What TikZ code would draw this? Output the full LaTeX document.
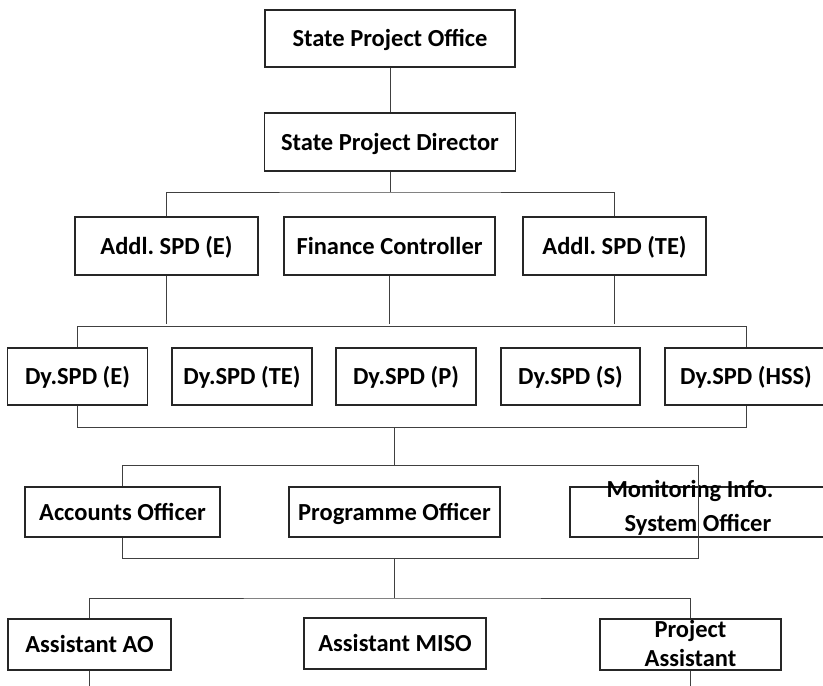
\documentclass[tikz,border=0pt]{standalone}
\usepackage{fontspec}
\setmainfont{Carlito}
\frenchspacing
\begin{document}
\begin{tikzpicture}[x=1pt,y=-1pt,
  box/.style={draw=black!85, line width=1.1pt, fill=white, inner sep=0pt,
    font=\bfseries\fontsize{24.5}{29}\selectfont, text height=16pt, text depth=0pt},
  lbl/.style={inner sep=0pt, anchor=base, font=\bfseries\fontsize{24.5}{29}\selectfont},
  conn/.style={draw=black!75, line width=0.9pt}]
\clip (0,0) rectangle (823,686);
\fill[white] (0,0) rectangle (823,686);
% level 1-2
\node[box, minimum width=250pt, minimum height=57pt] (spo) at (390,38.5) {State Project Office};
\node[box, minimum width=251pt, minimum height=58pt] (spd) at (390,142) {State Project Director};
% level 3
\node[box, minimum width=183pt, minimum height=58pt] (ae)  at (166.5,246) {Addl. SPD (E)};
\node[box, minimum width=211pt, minimum height=58pt] (fc)  at (389.5,246) {Finance Controller};
\node[box, minimum width=183pt, minimum height=58pt] (ate) at (614.5,246) {Addl. SPD (TE)};
% level 4
\node[box, minimum width=140pt, minimum height=57pt] (d1) at (77.5,376.5) {Dy.SPD (E)};
\node[box, minimum width=140pt, minimum height=57pt] (d2) at (242,376.5) {Dy.SPD (TE)};
\node[box, minimum width=140pt, minimum height=57pt] (d3) at (406,376.5) {Dy.SPD (P)};
\node[box, minimum width=139pt, minimum height=57pt] (d4) at (570.5,376.5) {Dy.SPD (S)};
\node[box, minimum width=162pt, minimum height=57pt] (d5) at (746,376.5) {Dy.SPD (HSS)};
% level 5
\node[box, minimum width=195pt, minimum height=50pt] (ao) at (122.5,512) {Accounts Officer};
\node[box, minimum width=211pt, minimum height=50pt] (po) at (394.5,512) {Programme Officer};
\node[box, minimum width=262pt, minimum height=50pt, text height=0pt] (mis) at (701,512) {};
\node[lbl] (mist1) at (690,497) {Monitoring Info.};
\node[lbl] (mist2) at (698,531.5) {System Officer};
% level 6
\node[box, minimum width=163pt, minimum height=51pt] (aao) at (89.5,644.5) {Assistant AO};
\node[box, minimum width=182pt, minimum height=51pt] (amiso) at (395,643.5) {Assistant MISO};
\node[box, minimum width=181pt, minimum height=51pt, text height=0pt] (pa) at (690.5,644.5) {};
\node[lbl] (pat1) at (690.5,637) {Project};
\node[lbl] (pat2) at (690.5,666.5) {Assistant};
% connectors
\coordinate (b1) at (390,192);
\coordinate (b2) at (400,326.5);
\coordinate (b3) at (394,427);
\coordinate (b4) at (394,465.5);
\coordinate (m1) at (698,465.5);
\coordinate (m2) at (698,558);
\coordinate (b5) at (394.5,558);
\coordinate (b6) at (394.5,598);
\coordinate (e1) at (0,686);
\draw[conn] (spo.south) -- (spd.north);
\draw[conn] (spd.south) -- (b1);
\draw[conn] (ae.north) |- (b1) -| (ate.north);
\draw[conn] (ae.south) -- ++(0,48);
\draw[conn] (fc.south) -- ++(0,48);
\draw[conn] (ate.south) -- ++(0,48);
\draw[conn] (d1.north) -- (d1.north |- b2) -| (d5.north);
\draw[conn] (d1.south) -- (d1.south |- b3) -| (d5.south);
\draw[conn] (b3) -- (b4);
\draw[conn] (ao.north) |- (m1) -- (m2) -| (ao.south);
\draw[conn] (b5) -- (b6);
\draw[conn] (aao.north) |- (b6) -| (pa.north);
\draw[conn] (aao.south) -- (aao.south |- e1);
\draw[conn] (pa.south) -- (pa.south |- e1);
\end{tikzpicture}
\end{document}
